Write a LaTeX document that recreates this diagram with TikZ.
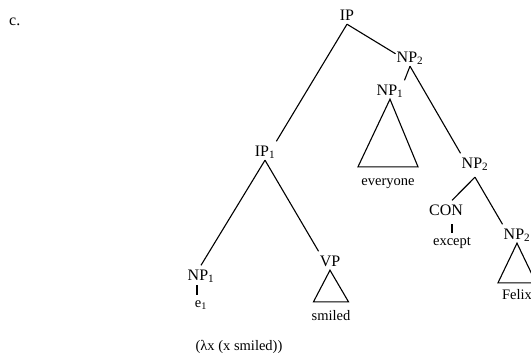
\documentclass[tikz,border=0pt]{standalone}
\usepackage{fontspec}
\setmainfont{Liberation Serif}
\begin{document}
\begin{tikzpicture}[x=1pt,y=-1pt,
  lab/.style={font=\fontsize{16}{16}\selectfont, inner xsep=1pt, inner ysep=4pt, text height=10.5pt, text depth=0pt, anchor=base},
  leaf/.style={font=\fontsize{14.5}{14.5}\selectfont, inner xsep=1pt, inner ysep=2pt, text height=10pt, text depth=0pt, anchor=base},
  edge/.style={draw=black, line width=1.1pt},
  tri/.style={draw=black, line width=1.1pt, line join=miter}]
\useasboundingbox (0,0) rectangle (531,356);
% labels
\node[lab, anchor=base west] (c) at (8,25) {c.};
\node[lab] (ip) at (347,20) {IP};
\node[lab] (np2a) at (410,62) {NP\textsubscript{2}};
\node[lab] (np1a) at (390,95) {NP\textsubscript{1}};
\node[lab] (ip1) at (265,156) {IP\textsubscript{1}};
\node[lab] (np1b) at (201,280) {NP\textsubscript{1}};
\node[lab] (vp) at (330,266) {VP};
\node[lab] (np2b) at (475,168) {NP\textsubscript{2}};
\node[lab] (con) at (446,215) {CON};
\node[lab] (np2c) at (517,239) {NP\textsubscript{2}};
% leaves
\node[leaf] (everyone) at (388,185) {everyone};
\node[leaf] (e1) at (201,307) {e\textsubscript{1}};
\node[leaf] (lam) at (239,350) {(λx (x smiled))};
\node[leaf] (smiled) at (331,320) {smiled};
\node[leaf] (except) at (452,245) {except};
\node[leaf] (felix) at (517,299) {Felix};
% edges
\draw[edge] (ip.south) -- (ip1.north east);
\draw[edge] (ip.south) -- ([yshift=3pt]np2a.west);
\draw[edge] (np2a.south) -- (np1a.north east);
\draw[edge] (np2a.south) -- (np2b.north west);
\draw[edge] (ip1.south) -- (np1b.north);
\draw[edge] (ip1.south) -- (vp.north west);
\draw[edge] ([yshift=-5pt]np2b.south) -- ([xshift=6pt]con.north);
\draw[edge] ([yshift=-5pt]np2b.south) -- (np2c.north west);
\draw[edge] ([xshift=-4pt,yshift=-1pt]np1b.south) -- ([xshift=-4pt]np1b.south |- e1.north);
\draw[edge] ([yshift=-5pt]except.north |- con.south) -- (except.north);
% triangles
\draw[tri] (np1a.south) -- ([xshift=-30pt,yshift=6pt]everyone.north) -- ([xshift=30pt,yshift=6pt]everyone.north) -- cycle;
\draw[tri] (vp.south) -- ([xshift=-17.5pt,yshift=6pt]smiled.north) -- ([xshift=17.5pt,yshift=6pt]smiled.north) -- cycle;
\draw[tri] (np2c.south) -- ([xshift=-19pt,yshift=4pt]felix.north) -- ([xshift=19pt,yshift=4pt]felix.north) -- cycle;
\end{tikzpicture}
\end{document}
